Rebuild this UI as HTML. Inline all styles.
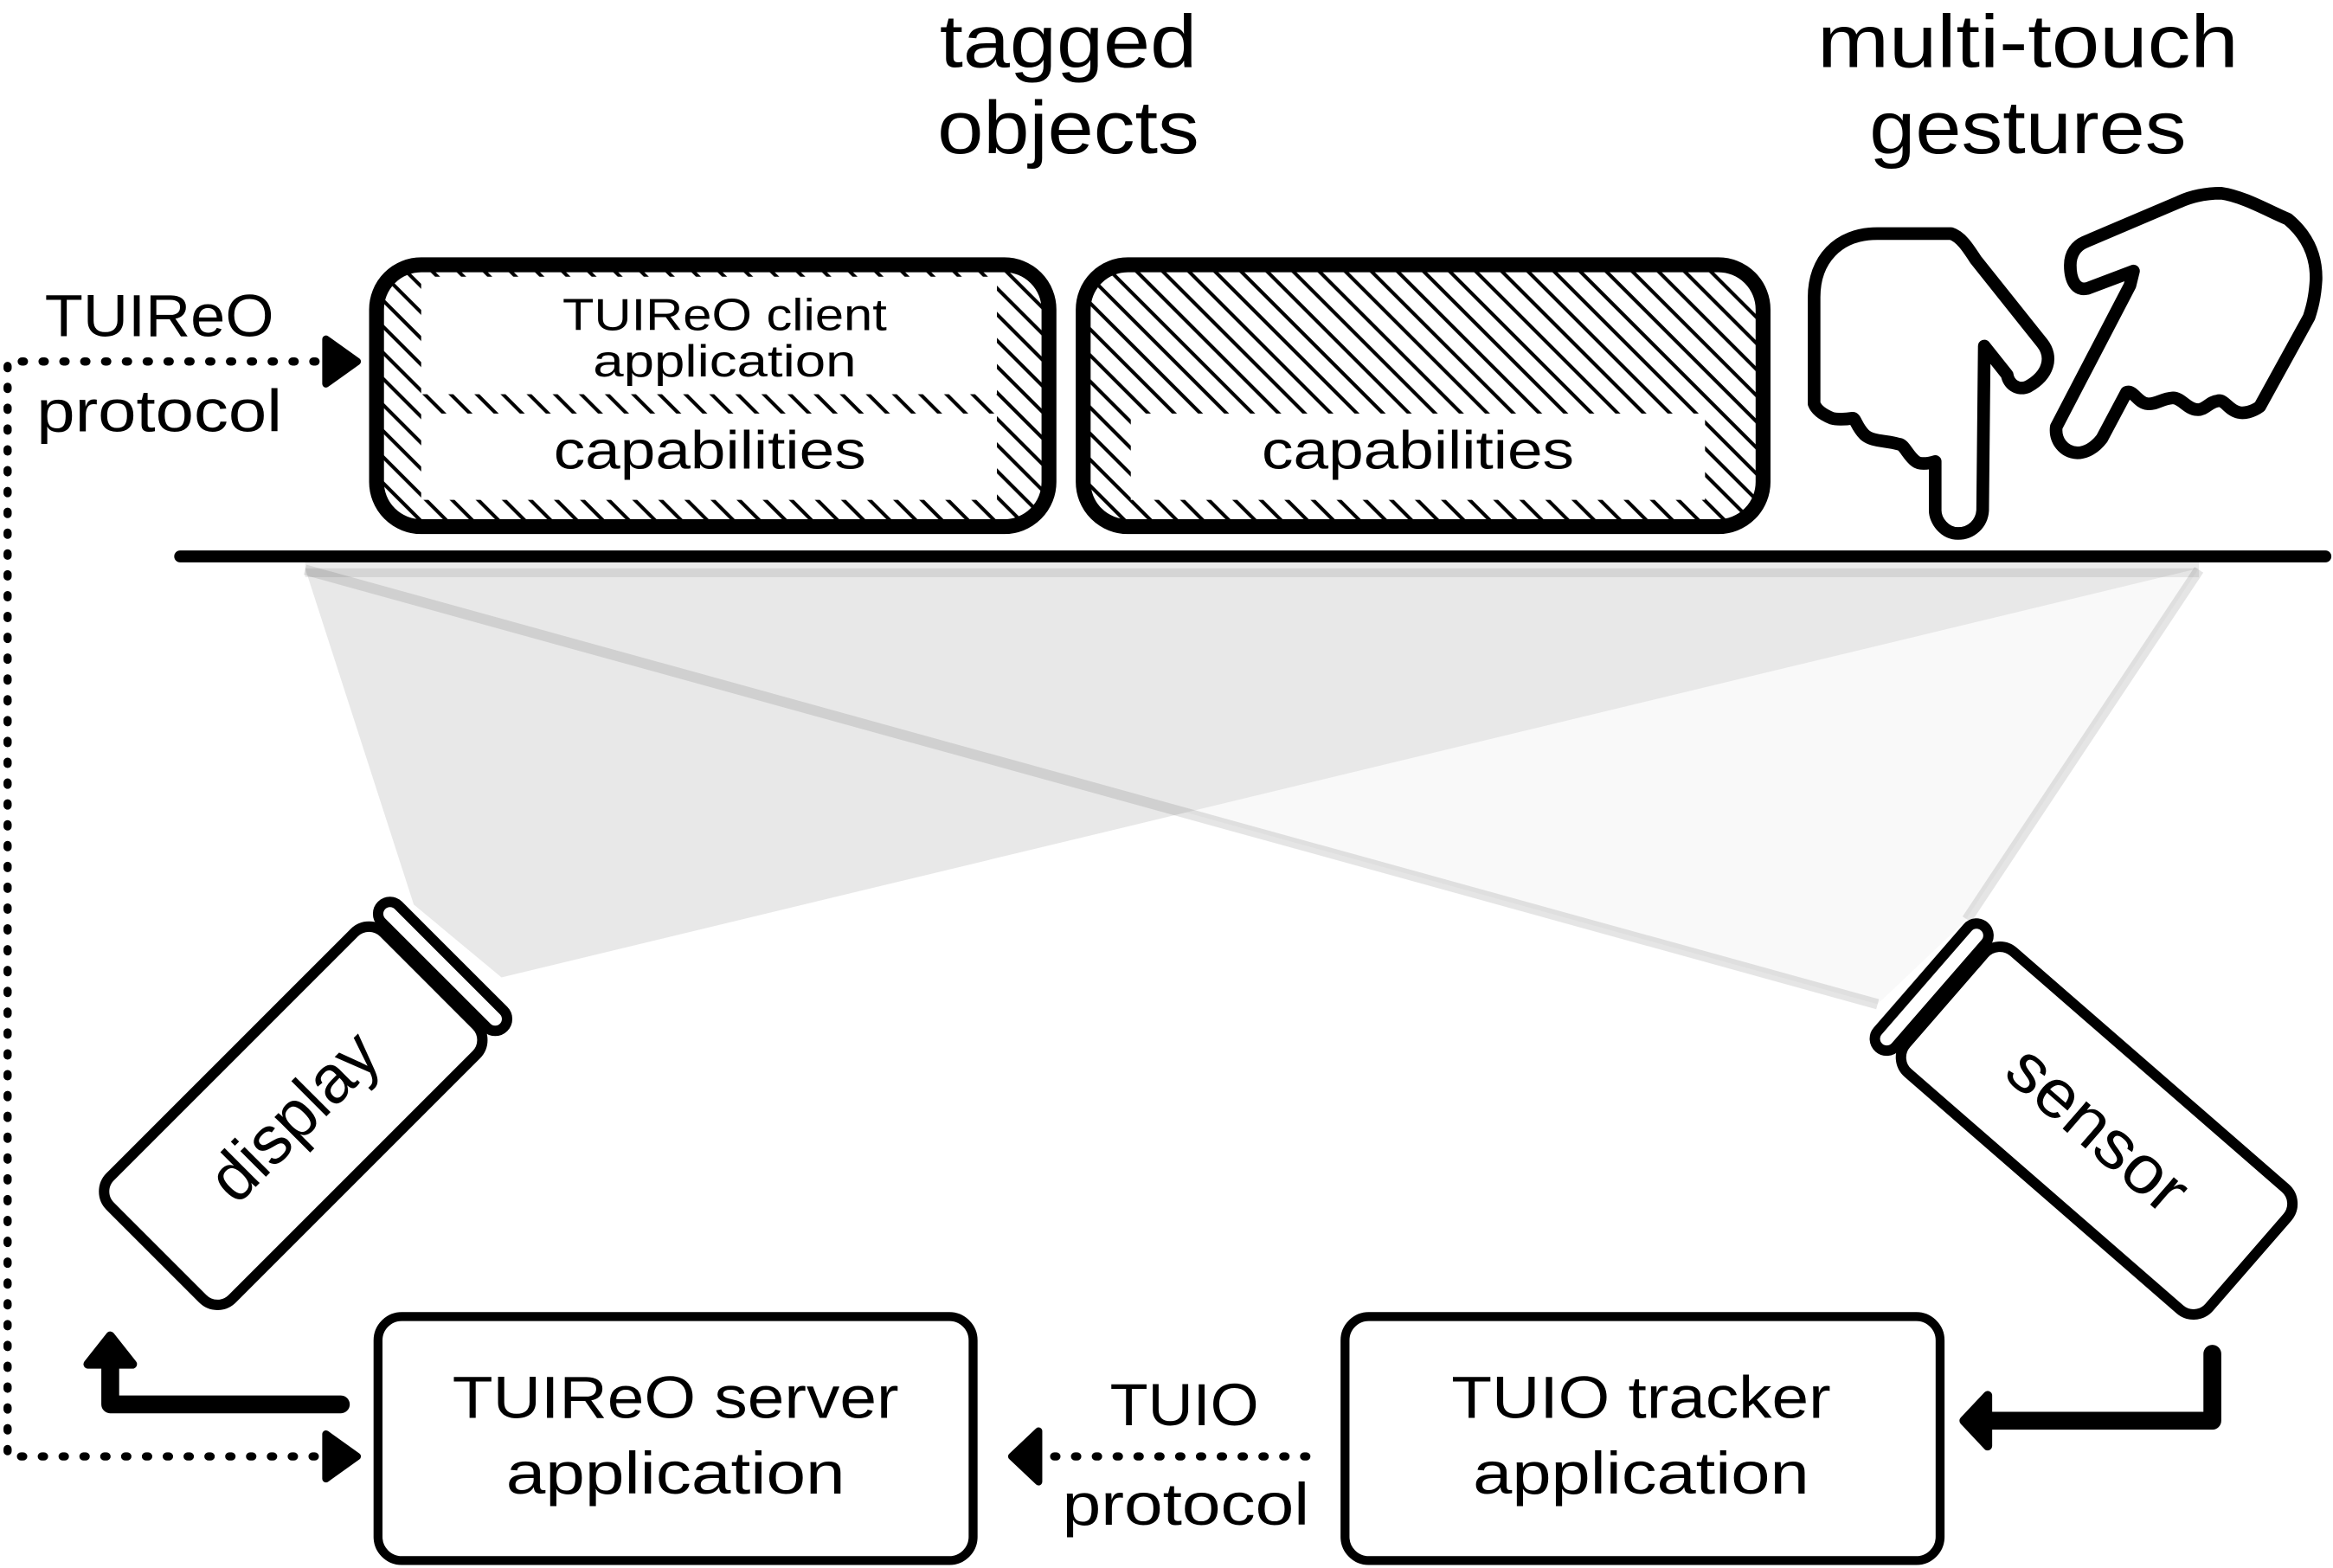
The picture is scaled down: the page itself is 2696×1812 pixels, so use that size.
<!DOCTYPE html>
<html><head><meta charset="utf-8"><style>
html,body{margin:0;padding:0;background:#fff;}
svg{display:block;}
text{font-family:"Liberation Sans",sans-serif;fill:#000;}
</style></head><body>
<svg width="2696" height="1812" viewBox="0 0 1568 1054" xmlns="http://www.w3.org/2000/svg">
<defs>
<pattern id="h" patternUnits="userSpaceOnUse" width="12.4" height="40" patternTransform="rotate(-45)">
<line x1="2" y1="-5" x2="2" y2="45" stroke="#000" stroke-width="2.4"/>
</pattern>
</defs>
<rect width="1568" height="1054" fill="#fff"/>

<!-- light cones -->
<polygon points="205,382 1478,382 1320,620 1262,675" fill="#000" fill-opacity="0.025"/>
<polygon points="205,382 1478,382 337,657 278,608" fill="#e8e8e8"/>
<line x1="205" y1="383" x2="1262" y2="675" stroke="#000" stroke-opacity="0.1" stroke-width="7"/>
<line x1="1478" y1="383" x2="1322" y2="618" stroke="#000" stroke-opacity="0.1" stroke-width="7"/>
<rect x="205" y="378" width="1273" height="10" fill="#000" fill-opacity="0.08"/>

<!-- surface -->
<line x1="121" y1="374" x2="1563" y2="374" stroke="#000" stroke-width="8" stroke-linecap="round"/>

<!-- titles -->
<text x="718" y="45" font-size="50" text-anchor="middle" textLength="173" lengthAdjust="spacingAndGlyphs">tagged</text>
<text x="718" y="103" font-size="50" text-anchor="middle" textLength="176" lengthAdjust="spacingAndGlyphs">objects</text>
<text x="1363" y="45" font-size="50" text-anchor="middle" textLength="283" lengthAdjust="spacingAndGlyphs">multi-touch</text>
<text x="1363" y="103" font-size="50" text-anchor="middle" textLength="213" lengthAdjust="spacingAndGlyphs">gestures</text>

<!-- TUIReO protocol -->
<text x="107" y="226" font-size="40" text-anchor="middle" textLength="154" lengthAdjust="spacingAndGlyphs">TUIReO</text>
<text x="107" y="290" font-size="40" text-anchor="middle" textLength="165" lengthAdjust="spacingAndGlyphs">protocol</text>

<!-- box 1 -->
<rect x="253" y="178" width="452" height="176" rx="30" fill="url(#h)" stroke="#000" stroke-width="10"/>
<rect x="283" y="186" width="387" height="79" fill="#fff"/>
<rect x="283" y="278" width="387" height="58" fill="#fff"/>
<text x="487" y="222" font-size="30" text-anchor="middle" textLength="218" lengthAdjust="spacingAndGlyphs" fill="#222">TUIReO client</text>
<text x="487" y="253" font-size="30" text-anchor="middle" textLength="177" lengthAdjust="spacingAndGlyphs" fill="#222">application</text>
<text x="477" y="315" font-size="36" text-anchor="middle" textLength="210" lengthAdjust="spacingAndGlyphs" fill="#222">capabilities</text>

<!-- box 2 -->
<rect x="728" y="178" width="457" height="176" rx="30" fill="url(#h)" stroke="#000" stroke-width="10"/>
<rect x="760" y="278" width="386" height="58" fill="#fff"/>
<text x="953" y="315" font-size="36" text-anchor="middle" textLength="210" lengthAdjust="spacingAndGlyphs" fill="#222">capabilities</text>

<!-- hands -->
<path d="M1219.3,271.4 L1219.3,199.7 C1219.3,175 1235,157 1261.8,157 L1311.3,157 C1318,159 1323,167 1327.9,174.5 L1372.7,230.7 C1380,240 1377,252 1363.2,259.8 C1356,263 1350,258 1349.1,252 L1333.7,232.6 L1332.6,343.1 C1332,352 1325,358.6 1316.1,358.6 C1307,358.6 1300.7,350 1300.7,343.1 L1300.7,310.2 C1295,312 1290,312 1287.7,310.2 C1282,306 1280,298.5 1276,298.5 C1268,296 1258,297 1253,292 C1248,287 1247,281.1 1245.3,281.1 C1240,282 1234,282 1231.1,281.1 C1226,279 1221,276 1219.3,271.4 Z" fill="#fff" stroke="#000" stroke-width="8.5" stroke-linejoin="round"/>
<path d="M1382.1,286.9 L1431.6,191.9 L1434,182.2 L1403.3,193.8 C1395,196 1391.5,188 1391.5,178.3 C1391.5,170 1396,165 1401,162.8 L1464.7,135.7 C1475,131 1485,129.9 1493,129.9 C1508,132 1525,142 1537.8,147.3 C1553,160 1557,175 1556.7,188 C1556,200 1554,207 1552,213.2 L1518.9,273.3 C1514,277 1508,278 1504.8,277.2 C1498,276 1495,268 1490.6,269.5 C1485,270 1482,276 1476.5,275.3 C1470,275 1466,267 1460,267.5 C1453,268 1449,272 1443.4,271.4 C1437,271 1434,262 1429.3,263.7 L1412.8,294.7 C1408,301 1402,304.4 1396.3,304.4 C1387,304 1381,296 1382.1,286.9 Z" fill="#fff" stroke="#000" stroke-width="8.5" stroke-linejoin="round"/>

<!-- display -->
<g transform="translate(197,750) rotate(-45)">
<rect x="-130" y="-58" width="260" height="116" rx="14" fill="#fff" stroke="#000" stroke-width="7"/>
<rect x="134" y="-58" width="16" height="116" rx="8" fill="#fff" stroke="#000" stroke-width="7"/>
<text x="0" y="16" font-size="46" text-anchor="middle" textLength="140" lengthAdjust="spacingAndGlyphs" fill="#111">display</text>
</g>

<!-- sensor -->
<g transform="translate(1407,758) rotate(41)">
<rect x="-132" y="-54" width="270" height="108" rx="14" fill="#fff" stroke="#000" stroke-width="7"/>
<rect x="-152" y="-54" width="16" height="108" rx="8" fill="#fff" stroke="#000" stroke-width="7"/>
<text x="3" y="14" font-size="46" text-anchor="middle" textLength="145" lengthAdjust="spacingAndGlyphs" fill="#111">sensor</text>
</g>

<!-- bottom boxes -->
<rect x="254" y="885" width="400" height="164" rx="16" fill="#fff" stroke="#000" stroke-width="6"/>
<text x="454" y="953" font-size="40" text-anchor="middle" textLength="300" lengthAdjust="spacingAndGlyphs" fill="#222">TUIReO server</text>
<text x="454" y="1004" font-size="40" text-anchor="middle" textLength="228" lengthAdjust="spacingAndGlyphs" fill="#222">application</text>

<rect x="904" y="885" width="400" height="164" rx="16" fill="#fff" stroke="#000" stroke-width="6"/>
<text x="1103" y="953" font-size="40" text-anchor="middle" textLength="255" lengthAdjust="spacingAndGlyphs" fill="#222">TUIO tracker</text>
<text x="1103" y="1004" font-size="40" text-anchor="middle" textLength="226" lengthAdjust="spacingAndGlyphs" fill="#222">application</text>

<text x="796" y="958" font-size="40" text-anchor="middle" textLength="100" lengthAdjust="spacingAndGlyphs">TUIO</text>
<text x="797" y="1025" font-size="40" text-anchor="middle" textLength="166" lengthAdjust="spacingAndGlyphs">protocol</text>

<!-- dotted connectors -->
<g fill="none" stroke="#000" stroke-width="5.5" stroke-linecap="round" stroke-dasharray="1.5 12.5">
<path d="M212,243 L5,243 L5,979 L212,979"/>
<path d="M878,979 L702,979"/>
</g>
<path d="M219,228 L219,258 L240,243 Z" fill="#000" stroke="#000" stroke-width="5" stroke-linejoin="round"/>
<path d="M219,964 L219,994 L240,979 Z" fill="#000" stroke="#000" stroke-width="5" stroke-linejoin="round"/>
<path d="M698,962 L698,996 L680,979 Z" fill="#000" stroke="#000" stroke-width="5" stroke-linejoin="round"/>

<!-- thick arrows -->
<path d="M229,944 L74,944 L74,915" fill="none" stroke="#000" stroke-width="12" stroke-linecap="round" stroke-linejoin="round"/>
<path d="M59,917 L89,917 L74,898 Z" fill="#000" stroke="#000" stroke-width="6" stroke-linejoin="round"/>
<path d="M1487,910 L1487,955 L1338,955" fill="none" stroke="#000" stroke-width="12" stroke-linecap="round" stroke-linejoin="round"/>
<path d="M1336,938 L1336,972 L1320,955 Z" fill="#000" stroke="#000" stroke-width="6" stroke-linejoin="round"/>
</svg>
</body></html>
